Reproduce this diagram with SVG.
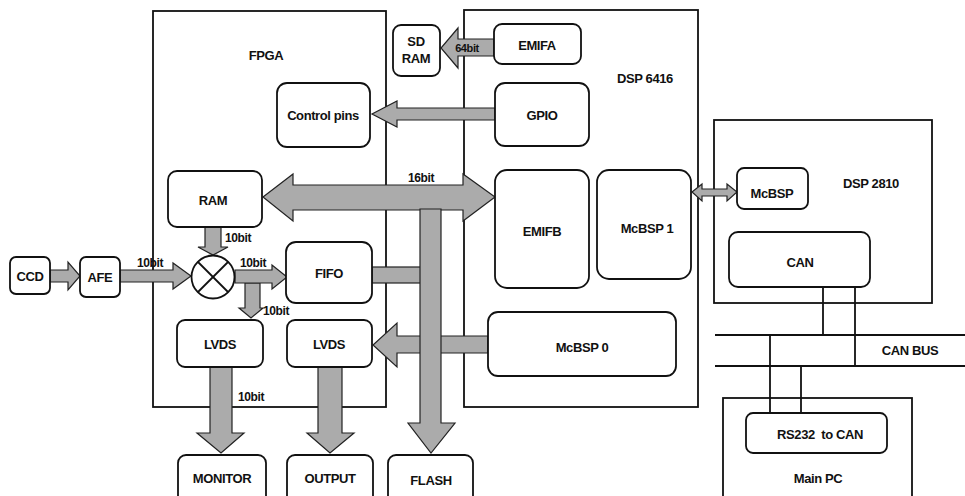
<svg xmlns="http://www.w3.org/2000/svg" width="965" height="496" viewBox="0 0 965 496">
<style>
.box{fill:none;stroke:#111;stroke-width:1.8}
.node{fill:#fff;stroke:#111;stroke-width:1.8}
.arr{fill:#ababab;stroke:#222;stroke-width:1.2;stroke-linejoin:miter}
.ln{stroke:#111;stroke-width:1.8;fill:none}
text{font-family:"Liberation Sans",Arial,sans-serif;font-size:13px;font-weight:bold;fill:#111;text-anchor:middle;letter-spacing:-0.4px}
.lbl{font-size:12px;text-anchor:start}
</style>
<rect width="965" height="496" fill="#fff"/>
<!-- containers -->
<g id="fpga"><rect class="box" x="153" y="11" width="233" height="396"/><text x="266" y="60">FPGA</text></g>
<g id="dsp6416"><rect class="box" x="464" y="10" width="234" height="397"/><text x="645" y="83">DSP 6416</text></g>
<g id="dsp2810"><rect class="box" x="714" y="120" width="218" height="183"/><text x="871" y="188">DSP 2810</text></g>
<g id="mainpc"><rect class="box" x="723" y="398" width="189" height="110"/><text x="818" y="483">Main PC</text></g>
<g id="canbus"><line class="ln" x1="715" y1="335" x2="965" y2="335"/><line class="ln" x1="715" y1="366" x2="965" y2="366"/><text x="910" y="355">CAN BUS</text></g>
<!-- connectors -->
<g id="connectors">
<line class="ln" x1="823" y1="287" x2="823" y2="335"/>
<line class="ln" x1="855" y1="287" x2="855" y2="366"/>
<line class="ln" x1="770" y1="335" x2="770" y2="413"/>
<line class="ln" x1="801" y1="366" x2="801" y2="413"/>
<polygon class="arr" points="494,39 458,39 458,28 441,48 458,68 458,56 494,56"/>
<text x="467" y="52" class="lbl" style="text-anchor:middle;font-size:11px">64bit</text>
<polygon class="arr" points="495,108 397,108 397,101 372,114 397,127 397,120 495,120"/>
<polygon class="arr" points="263,197 293,174 293,185 463,185 463,174 495,197 463,221 463,210 293,210 293,221"/>
<rect class="arr" x="372" y="267" width="50" height="16"/>
<polygon class="arr" points="488,336 397,336 397,323 373,345 397,367 397,353 488,353"/>
<polygon class="arr" points="420,209 441,209 441,423 455,423 431,453 408,423 420,423"/>
<polygon class="arr" points="50,270 68,270 68,262 80,276 68,290 68,282 50,282"/>
<polygon class="arr" points="120,270 173,270 173,263 191,276 173,289 173,282 120,282"/>
<polygon class="arr" points="205,227 221,227 221,247 228,247 213,255 198,247 205,247"/>
<polygon class="arr" points="245,283 260,283 260,308 263,308 251,318 239,308 245,308"/>
<polygon class="arr" points="235,270 272,270 272,265 287,277 272,289 272,283 235,283"/>
<polygon class="arr" points="210,367 232,367 232,433 244,433 221,453 197,433 210,433"/>
<polygon class="arr" points="318,367 342,367 342,433 354,433 330,453 307,433 318,433"/>
<polygon class="arr" points="692,192 702,184 702,189 727,189 727,184 737,192 727,201 727,196 702,196 702,201"/>
<text class="lbl" x="408" y="182">16bit</text>
<text class="lbl" x="137" y="267">10bit</text>
<text class="lbl" x="225" y="242">10bit</text>
<text class="lbl" x="240" y="267">10bit</text>
<text class="lbl" x="263" y="315">10bit</text>
<text class="lbl" x="238" y="401">10bit</text>
</g>
<!-- nodes -->
<g id="sdram"><rect class="node" x="393" y="25" width="47" height="51" rx="8"/><text x="416" y="46">SD</text><text x="416" y="63">RAM</text></g>
<g id="emifa"><rect class="node" x="494" y="24" width="87" height="40" rx="8"/><text x="537" y="50">EMIFA</text></g>
<g id="controlpins"><rect class="node" x="277" y="83" width="93" height="64" rx="10"/><text x="323" y="120">Control pins</text></g>
<g id="gpio"><rect class="node" x="495" y="83" width="94" height="63" rx="10"/><text x="542" y="120">GPIO</text></g>
<g id="ram"><rect class="node" x="168" y="171" width="94" height="56" rx="9"/><text x="213" y="205">RAM</text></g>
<g id="emifb"><rect class="node" x="495" y="170" width="94" height="118" rx="12"/><text x="542" y="236">EMIFB</text></g>
<g id="mcbsp1"><rect class="node" x="597" y="170" width="94" height="109" rx="12"/><text x="647" y="233">McBSP 1</text></g>
<g id="mcbsp2810"><rect class="node" x="737" y="168" width="71" height="41" rx="7"/><text x="772" y="198">McBSP</text></g>
<g id="can"><rect class="node" x="729" y="232" width="141" height="55" rx="9"/><text x="800" y="267">CAN</text></g>
<g id="mcbsp0"><rect class="node" x="488" y="312" width="188" height="64" rx="10"/><text x="582" y="352">McBSP 0</text></g>
<g id="rs232"><rect class="node" x="746" y="413" width="141" height="40" rx="7"/><text x="820" y="439">RS232&#160; to CAN</text></g>
<g id="ccd"><rect class="node" x="10" y="257" width="40" height="37" rx="6"/><text x="30" y="281">CCD</text></g>
<g id="afe"><rect class="node" x="80" y="257" width="40" height="40" rx="6"/><text x="100" y="282">AFE</text></g>
<g id="mixer"><circle class="node" cx="213" cy="277" r="21.5"/><line class="ln" x1="198" y1="262" x2="228" y2="292"/><line class="ln" x1="228" y1="262" x2="198" y2="292"/></g>
<g id="fifo"><rect class="node" x="286" y="242" width="86" height="61" rx="10"/><text x="329" y="278">FIFO</text></g>
<g id="lvds1"><rect class="node" x="177" y="320" width="86" height="47" rx="8"/><text x="220" y="349">LVDS</text></g>
<g id="lvds2"><rect class="node" x="287" y="320" width="85" height="47" rx="8"/><text x="329" y="349">LVDS</text></g>
<g id="monitor"><rect class="node" x="178" y="455" width="88" height="60" rx="8"/><text x="222" y="483">MONITOR</text></g>
<g id="output"><rect class="node" x="287" y="455" width="86" height="60" rx="8"/><text x="330" y="483">OUTPUT</text></g>
<g id="flash"><rect class="node" x="388" y="455" width="85" height="60" rx="8"/><text x="431" y="485">FLASH</text></g>
</svg>
